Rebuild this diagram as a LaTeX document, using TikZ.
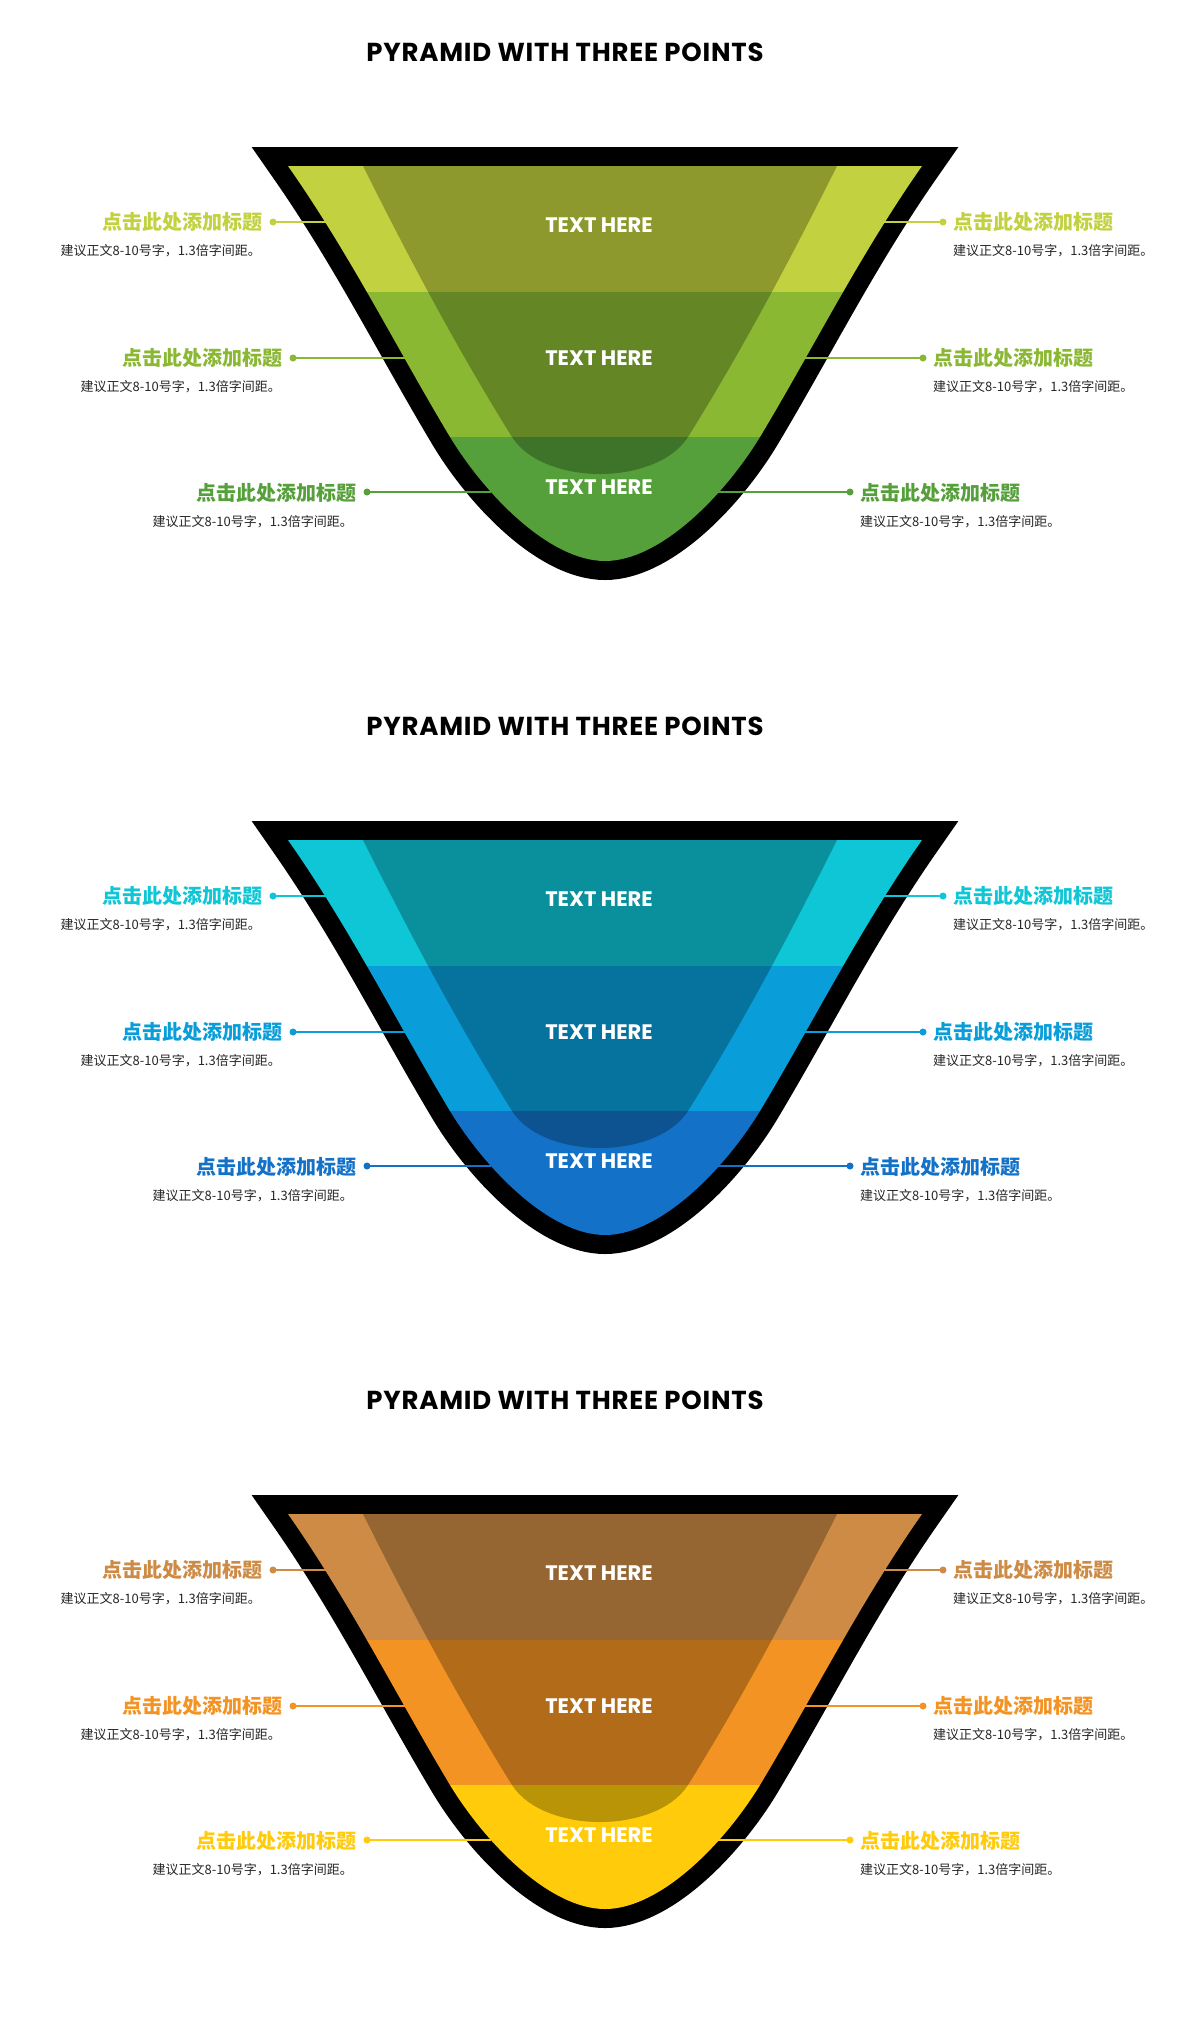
\documentclass[tikz,border=0pt]{standalone}
\usepackage{fontspec}
\newfontfamily\popfont{Poppins}
\newfontfamily\titlefont{Poppins}[LetterSpace=3.0]
\newfontfamily\cjkfont{Noto Sans CJK SC}
\definecolor{gA}{HTML}{C2D13F}
\definecolor{gB}{HTML}{8AB833}
\definecolor{gC}{HTML}{55A03A}
\definecolor{bA}{HTML}{0EC6D6}
\definecolor{bB}{HTML}{099ED9}
\definecolor{bC}{HTML}{1371C8}
\definecolor{oA}{HTML}{CD8B45}
\definecolor{oB}{HTML}{F39323}
\definecolor{oC}{HTML}{FFCB0A}
\tikzset{
  titlest/.style={font=\titlefont\bfseries\fontsize{26}{30}\selectfont, inner sep=0pt, text=black},
  herest/.style={font=\popfont\bfseries\fontsize{21}{24}\selectfont, inner sep=0pt, text=white},
  lblst/.style={font=\cjkfont\bfseries\fontsize{20}{24}\selectfont, inner sep=0pt},
  subst/.style={font=\cjkfont\fontsize{13}{16}\selectfont, inner sep=0pt, text=black!85},
  dotst/.style={circle, inner sep=0pt, minimum size=7pt},
  linest/.style={line width=2pt},
}
\newcommand\pyrpanel[5]{%
\begin{scope}[shift={(0,#1)}]
  \node[titlest] (#2title) at (565,52) {PYRAMID WITH THREE POINTS};
  \draw[line width=38pt, line join=miter]
    (288,166) .. controls (351,256) and (396,347) .. (450,437)
    .. controls (486,496) and (550,561) .. (605,561)
    .. controls (660,561) and (724,496) .. (760,437)
    .. controls (814,347) and (859,256) .. (922,166) -- cycle;
  \begin{scope}
    \clip (288,166) .. controls (351,256) and (396,347) .. (450,437)
    .. controls (486,496) and (550,561) .. (605,561)
    .. controls (660,561) and (724,496) .. (760,437)
    .. controls (814,347) and (859,256) .. (922,166) -- cycle;
    \fill[#3] (240,140) rectangle (970,292);
    \fill[#4] (240,292) rectangle (970,437);
    \fill[#5] (240,437) rectangle (970,600);
    \fill[black, opacity=0.27] (358,158) -- (363,166)
      .. controls (408,256) and (456,347) .. (512,437)
      .. controls (528,462) and (565,474) .. (600,474)
      .. controls (635,474) and (672,462) .. (688,437)
      .. controls (744,347) and (792,256) .. (837,166) -- (842,158) -- cycle;
  \end{scope}
  \node[herest] (#2h1) at (599,225) {TEXT HERE};
  \node[herest] (#2h2) at (599,358) {TEXT HERE};
  \node[herest] (#2h3) at (599,487) {TEXT HERE};
  % left labels
  \node[dotst, fill=#3] (#2dl1) at (273,222) {};
  \node[dotst, fill=#4] (#2dl2) at (293,358) {};
  \node[dotst, fill=#5] (#2dl3) at (367,492) {};
  \coordinate (#2el1) at (336,222);
  \coordinate (#2el2) at (410,358);
  \coordinate (#2el3) at (491,492);
  \draw[linest, #3] (#2dl1.center) -- (#2el1);
  \draw[linest, #4] (#2dl2.center) -- (#2el2);
  \draw[linest, #5] (#2dl3.center) -- (#2el3);
  \node[lblst, text=#3, anchor=east] (#2tl1) at (263,222) {点击此处添加标题};
  \node[subst, anchor=east] (#2sl1) at (261,251) {建议正文8-10号字，1.3倍字间距。};
  \node[lblst, text=#4, anchor=east] (#2tl2) at (283,358) {点击此处添加标题};
  \node[subst, anchor=east] (#2sl2) at (281,387) {建议正文8-10号字，1.3倍字间距。};
  \node[lblst, text=#5, anchor=east] (#2tl3) at (357,493) {点击此处添加标题};
  \node[subst, anchor=east] (#2sl3) at (353,522) {建议正文8-10号字，1.3倍字间距。};
  % right labels
  \node[dotst, fill=#3] (#2dr1) at (943,222) {};
  \node[dotst, fill=#4] (#2dr2) at (923,358) {};
  \node[dotst, fill=#5] (#2dr3) at (850,492) {};
  \coordinate (#2er1) at (875,222);
  \coordinate (#2er2) at (800,358);
  \coordinate (#2er3) at (715,492);
  \draw[linest, #3] (#2dr1.center) -- (#2er1);
  \draw[linest, #4] (#2dr2.center) -- (#2er2);
  \draw[linest, #5] (#2dr3.center) -- (#2er3);
  \node[lblst, text=#3, anchor=west] (#2tr1) at (953,222) {点击此处添加标题};
  \node[subst, anchor=west] (#2sr1) at (953,251) {建议正文8-10号字，1.3倍字间距。};
  \node[lblst, text=#4, anchor=west] (#2tr2) at (933,358) {点击此处添加标题};
  \node[subst, anchor=west] (#2sr2) at (933,387) {建议正文8-10号字，1.3倍字间距。};
  \node[lblst, text=#5, anchor=west] (#2tr3) at (860,493) {点击此处添加标题};
  \node[subst, anchor=west] (#2sr3) at (860,522) {建议正文8-10号字，1.3倍字间距。};
\end{scope}}
\begin{document}
\begin{tikzpicture}[x=1pt, y=-1pt]
  \fill[white] (0,0) rectangle (1200,2022);
  \useasboundingbox (0,0) rectangle (1200,2022);
  \pyrpanel{0}{g}{gA}{gB}{gC}
  \pyrpanel{674}{b}{bA}{bB}{bC}
  \pyrpanel{1348}{o}{oA}{oB}{oC}
\end{tikzpicture}
\end{document}
